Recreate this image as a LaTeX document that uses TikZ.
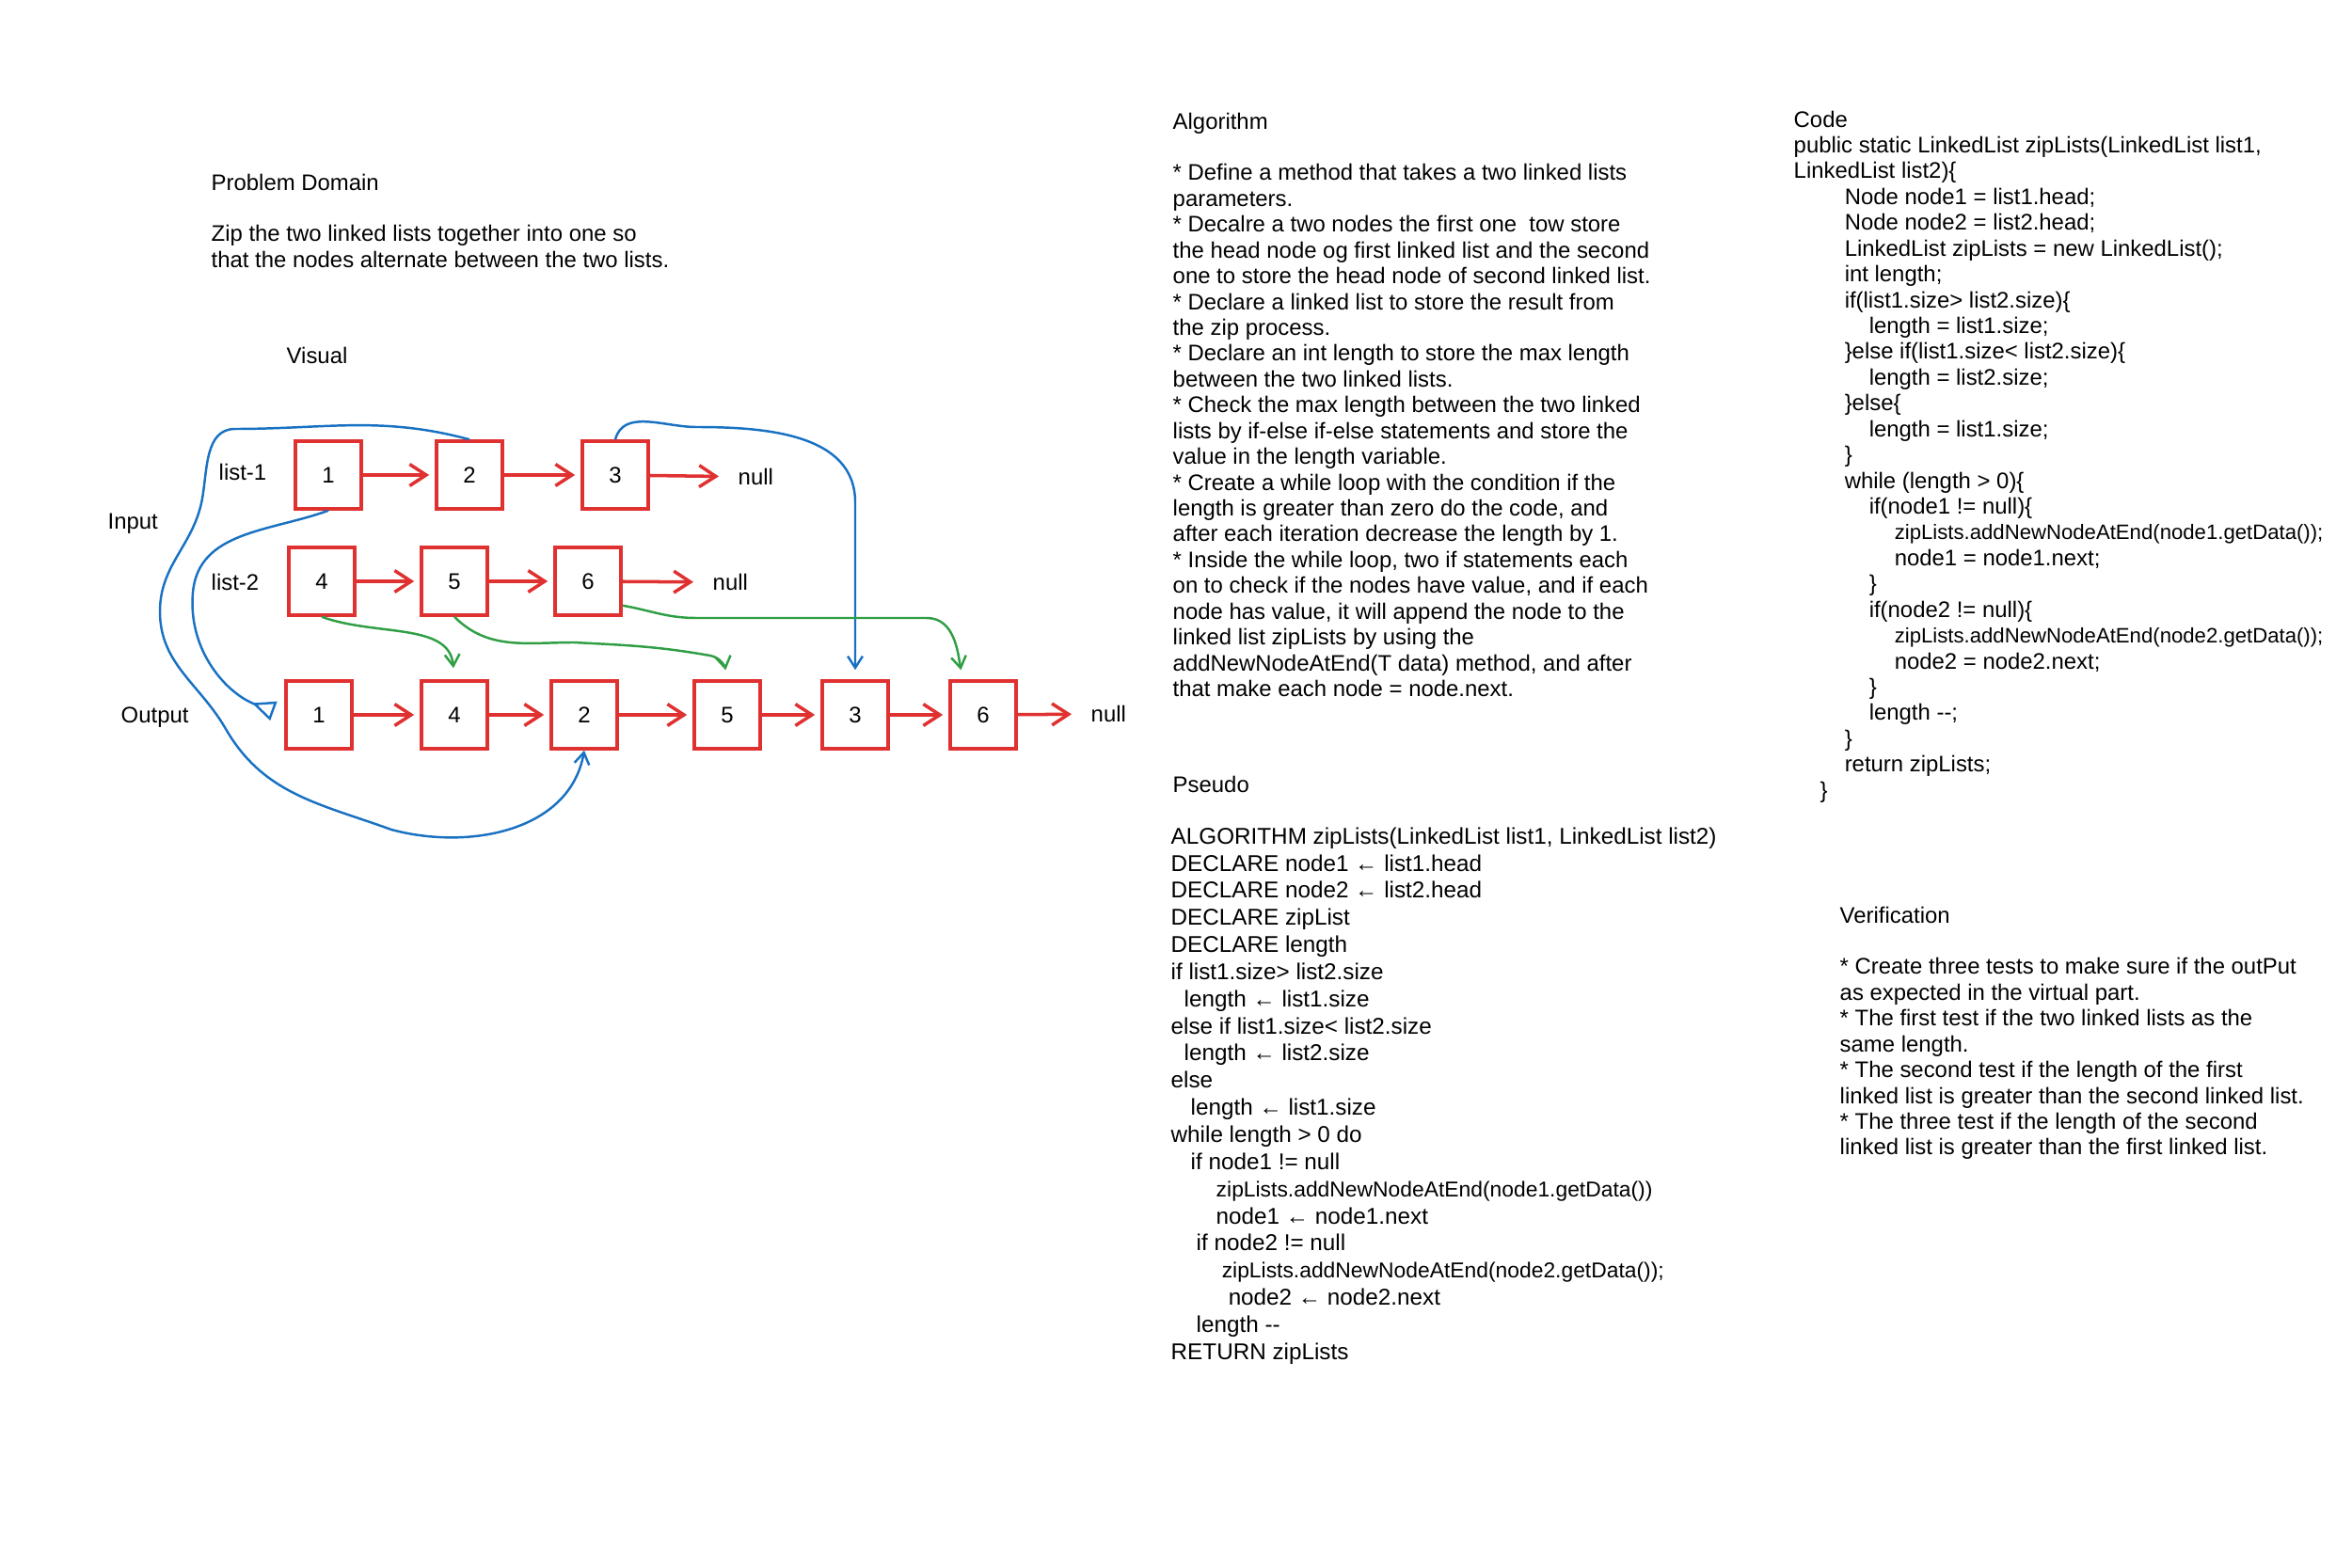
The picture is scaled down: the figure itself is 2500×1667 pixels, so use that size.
\documentclass[tikz,border=0pt]{standalone}
\usepackage{fontspec}
\setmainfont{Liberation Sans}
\usetikzlibrary{arrows.meta}
\definecolor{ListRed}{HTML}{E03131}
\definecolor{MoveBlue}{HTML}{1971C2}
\definecolor{MoveGreen}{HTML}{2F9E44}
\newcommand*{\TextFont}{\fontsize{6.8}{7.8}\selectfont}
\newcommand*{\PseudoFont}{\fontsize{6.9}{8.2}\selectfont}
\newcommand*{\Tab}[1]{\hspace*{#1cm}}
\newcommand*{\Narrow}[2]{{\fontsize{#1}{7.8}\selectfont #2}}
\tikzset{
  listbox/.style={draw=ListRed, line width=1pt, minimum width=0.7cm, minimum height=0.72cm, inner sep=0pt, font=\fontsize{6.8}{8}\selectfont},
  nextlink/.style={ListRed, line width=1pt, -{Straight Barb[length=5pt,width=6.5pt]}, shorten >=0.06cm},
  bluemove/.style={MoveBlue, line width=0.7pt, -{Straight Barb[length=3.5pt,width=4.5pt]}},
  greenmove/.style={MoveGreen, line width=0.7pt, -{Straight Barb[length=3.5pt,width=4.5pt]}},
  tag/.style={anchor=west, inner sep=0pt, font=\fontsize{6.8}{8}\selectfont},
  textblock/.style={anchor=north west, inner sep=0pt, align=left, font=\TextFont}
}

\begin{document}
\begin{tikzpicture}[x=0.01cm, y=-0.01cm]
    \useasboundingbox (0,0) rectangle (2500,1667);
    \node[textblock] (problem) at (224,184) {Problem Domain\\[7.8pt]
        Zip the two linked lists together into one so\\
        that the nodes alternate between the two lists.};
    \node[tag] (visual) at (304,378) {Visual};
    \node[tag] (listone) at (232,502) {list-1};
    \node[tag] (listtwo) at (224,619) {list-2};
    \node[tag] (input) at (114,557) {Input};
    \node[tag] (output) at (128,763) {Output};
    \foreach \name/\x/\val in {a1/349/1, a2/499/2, a3/654/3}
        \node[listbox] (\name) at (\x,505) {\val};
    \foreach \name/\x/\val in {b4/342/4, b5/483/5, b6/625/6}
        \node[listbox] (\name) at (\x,618) {\val};
    \foreach \name/\x/\val in {o1/339/1, o4/483/4, o2/621/2, o5/773/5, o3/909/3, o6/1045/6}
        \node[listbox] (\name) at (\x,760) {\val};
    \node[tag] (nullone) at (784,507) {null};
    \node[tag] (nulltwo) at (757,619) {null};
    \node[tag] (nullout) at (1159,759) {null};
    \foreach \from/\to in {a1/a2, a2/a3, b4/b5, b5/b6, o1/o4, o4/o2, o2/o5, o5/o3, o3/o6}
        \draw[nextlink] (\from) -- (\to);
    \foreach \from/\to in {a3/nullone, b6/nulltwo, o6/nullout}
        \draw[nextlink, shorten >=0.2cm] (\from) -- (\to);
    \draw[bluemove] (a2.north) to[out=165,in=0] (250,456) to[out=180,in=80] (215,530)
        to[out=260,in=90] (170,650) to[out=270,in=120] (240,775) to[out=300,in=160] (416,882)
        to[out=-15,in=260] (o2.south);
    \draw[bluemove, -{Triangle[open,reversed,length=7pt,width=6pt]}, shorten >=0.12cm] (a1.south)
        to[out=200,in=85] (205,630) to[out=265,in=160] (o1.west);
    \draw[bluemove, shorten >=0.1cm] (a3.north) to[out=75,in=180] (740,454) to[out=0,in=90] (909,534) -- (o3.north);
    \draw[greenmove, shorten >=0.12cm] (b4.south) to[out=-20,in=95] (o4.north);
    \draw[greenmove, shorten >=0.1cm] (b5.south) to[out=-45,in=180] (610,683) to[out=-3,in=170] (755,697)
        to[out=-10,in=100] (o5.north);
    \draw[greenmove, shorten >=0.1cm] (b6.-35) to[out=-10,in=180] (740,657) -- (985,657) to[out=0,in=100] (o6.120);
    \node[textblock] (algorithm) at (1246,119) {Algorithm\\[7.8pt]
        * Define a method that takes a two linked lists\\
        parameters.\\
        * Decalre a two nodes the first one~ tow store\\
        the head node og first linked list and the second\\
        one to store the head node of second linked list.\\
        * Declare a linked list to store the result from\\
        the zip process.\\
        * Declare an int length to store the max length\\
        between the two linked lists.\\
        * Check the max length between the two linked\\
        lists by if-else if-else statements and store the\\
        value in the length variable.\\
        * Create a while loop with the condition if the\\
        length is greater than zero do the code, and\\
        after each iteration decrease the length by 1.\\
        * Inside the while loop, two if statements each\\
        on to check if the nodes have value, and if each\\
        node has value, it will append the node to the\\
        linked list zipLists by using the\\
        addNewNodeAtEnd(T data) method, and after\\
        that make each node = node.next.};
    \node[textblock] (code) at (1906,117) {Code\\
        public static LinkedList zipLists(LinkedList list1,\\
        LinkedList list2)\{\\
        \Tab{0.54}Node node1 = list1.head;\\
        \Tab{0.54}Node node2 = list2.head;\\
        \Tab{0.54}LinkedList zipLists = new LinkedList();\\
        \Tab{0.54}int length;\\
        \Tab{0.54}if(list1.size> list2.size)\{\\
        \Tab{0.80}length = list1.size;\\
        \Tab{0.54}\}else if(list1.size< list2.size)\{\\
        \Tab{0.80}length = list2.size;\\
        \Tab{0.54}\}else\{\\
        \Tab{0.80}length = list1.size;\\
        \Tab{0.54}\}\\
        \Tab{0.54}while (length > 0)\{\\
        \Tab{0.80}if(node1 != null)\{\\
        \Tab{1.07}\Narrow{6.3}{zipLists.addNewNodeAtEnd(node1.getData());}\\
        \Tab{1.07}node1 = node1.next;\\
        \Tab{0.80}\}\\
        \Tab{0.80}if(node2 != null)\{\\
        \Tab{1.07}\Narrow{6.3}{zipLists.addNewNodeAtEnd(node2.getData());}\\
        \Tab{1.07}node2 = node2.next;\\
        \Tab{0.80}\}\\
        \Tab{0.80}length -{}-;\\
        \Tab{0.54}\}\\
        \Tab{0.54}return zipLists;\\
        \Tab{0.28}\}};
    \node[tag, font=\TextFont] (pseudotitle) at (1246,834) {Pseudo};
    \node[textblock, font=\PseudoFont] (pseudo) at (1244,879) {ALGORITHM zipLists(LinkedList list1, LinkedList list2)\\
        DECLARE node1 ← list1.head\\
        DECLARE node2 ← list2.head\\
        DECLARE zipList\\
        DECLARE length\\
        if list1.size> list2.size\\
        \Tab{0.14}length ← list1.size\\
        else if list1.size< list2.size\\
        \Tab{0.14}length ← list2.size\\
        else\\
        \Tab{0.21}length ← list1.size\\
        while length > 0 do\\
        \Tab{0.21}if node1 != null\\
        \Tab{0.48}\Narrow{6.5}{zipLists.addNewNodeAtEnd(node1.getData())}\\
        \Tab{0.48}node1 ← node1.next\\
        \Tab{0.27}if node2 != null\\
        \Tab{0.54}\Narrow{6.5}{zipLists.addNewNodeAtEnd(node2.getData());}\\
        \Tab{0.61}node2 ← node2.next\\
        \Tab{0.27}length -{}-\\
        RETURN zipLists};
    \node[textblock] (verification) at (1955,963) {Verification\\[7.8pt]
        * Create three tests to make sure if the outPut\\
        as expected in the virtual part.\\
        * The first test if the two linked lists as the\\
        same length.\\
        * The second test if the length of the first\\
        linked list is greater than the second linked list.\\
        * The three test if the length of the second\\
        linked list is greater than the first linked list.};
\end{tikzpicture}
\end{document}
